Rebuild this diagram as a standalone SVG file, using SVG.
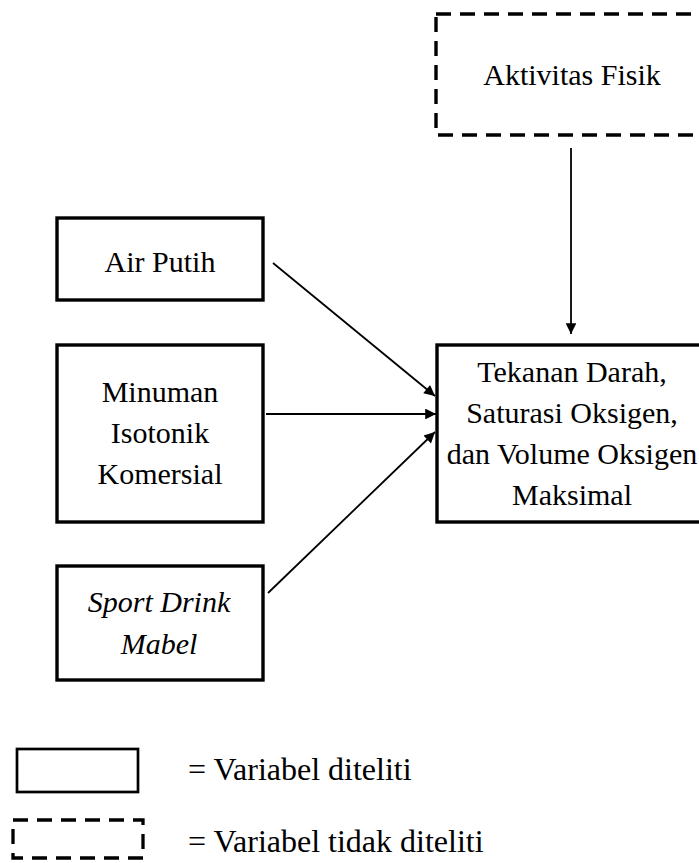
<svg xmlns="http://www.w3.org/2000/svg" width="699" height="863" viewBox="0 0 699 863">
<style>
.box{fill:#fff;stroke:#000;stroke-width:3.4}
.dash{fill:#fff;stroke:#000;stroke-width:3.4;stroke-dasharray:15 9}
.lbl{font-family:"Liberation Serif","Times New Roman",serif;font-size:30px;fill:#000;text-anchor:middle}
.it{font-style:italic}
.leg{font-family:"Liberation Serif","Times New Roman",serif;font-size:32px;fill:#000}
.edge{stroke:#000;stroke-width:1.8;fill:none;marker-end:url(#ah)}
</style>
<defs>
<marker id="ah" viewBox="0 0 10 10" refX="10" refY="5" markerWidth="7" markerHeight="6" markerUnits="strokeWidth" orient="auto">
<path d="M0,0 L10,5 L0,10 z" fill="#000"/>
</marker>
</defs>
<g id="aktivitas-fisik">
<rect class="dash" x="436" y="14" width="272" height="121"/>
<text class="lbl" x="572" y="85">Aktivitas Fisik</text>
</g>
<g id="air-putih">
<rect class="box" x="57" y="218" width="206" height="82"/>
<text class="lbl" x="160" y="272">Air Putih</text>
</g>
<g id="minuman-isotonik">
<rect class="box" x="57" y="345" width="206" height="177"/>
<text class="lbl" x="160" y="402">Minuman</text>
<text class="lbl" x="160" y="443">Isotonik</text>
<text class="lbl" x="160" y="484">Komersial</text>
</g>
<g id="sport-drink">
<rect class="box" x="57" y="566" width="206" height="114"/>
<text class="lbl it" x="159" y="612">Sport Drink</text>
<text class="lbl it" x="159" y="654">Mabel</text>
</g>
<g id="tekanan-darah">
<rect class="box" x="437" y="345" width="270" height="177"/>
<text class="lbl" x="572" y="382">Tekanan Darah,</text>
<text class="lbl" x="572" y="423">Saturasi Oksigen,</text>
<text class="lbl" x="572" y="464">dan Volume Oksigen</text>
<text class="lbl" x="572" y="505">Maksimal</text>
</g>
<g id="connectors">
<line class="edge" x1="273" y1="263" x2="435" y2="396"/>
<line class="edge" x1="266" y1="414" x2="436" y2="414"/>
<line class="edge" x1="268" y1="593" x2="435" y2="432"/>
<line class="edge" x1="571" y1="148" x2="571" y2="334"/>
</g>
<g id="legend">
<rect x="17" y="749" width="121" height="43" fill="#fff" stroke="#000" stroke-width="2.7"/>
<text class="leg" x="188" y="780">= Variabel diteliti</text>
<rect x="13" y="820" width="130" height="38" fill="none" stroke="#000" stroke-width="3.3" stroke-dasharray="15 9"/>
<text class="leg" x="188" y="852">= Variabel tidak diteliti</text>
</g>
</svg>
